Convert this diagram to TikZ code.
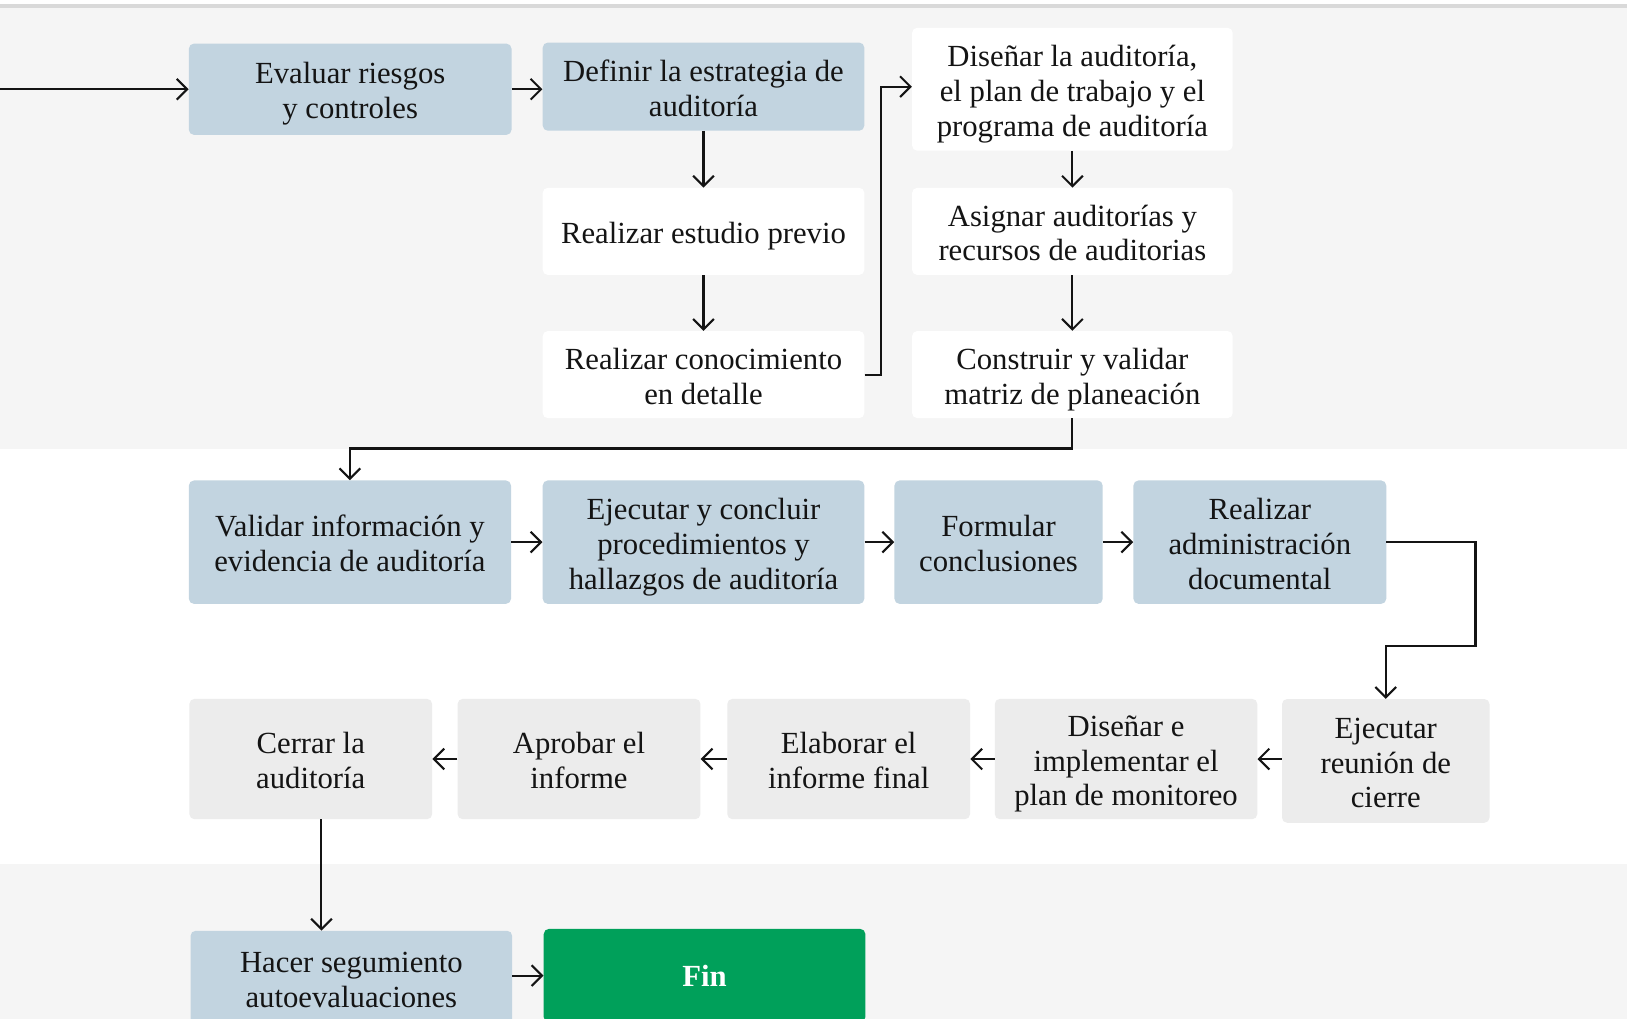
\documentclass[tikz,border=0pt]{standalone}
\usepackage{fontspec}
\setmainfont{Liberation Serif}
\usetikzlibrary{arrows.meta}

\definecolor{bandgray}{HTML}{F5F5F5}
\definecolor{rulegray}{HTML}{D9D9D9}
\definecolor{stepblue}{HTML}{C2D4E0}
\definecolor{stepgray}{HTML}{ECECEC}
\definecolor{fingreen}{HTML}{00A05A}
\definecolor{inkblack}{HTML}{141414}

% centred block of strutted lines, set slightly low in its box
\newcommand\steplines[1]{\raisebox{-5pt}[\height][\depth]{%
  \begin{tabular}{@{}c@{}}#1\end{tabular}}}

\tikzset{
  stepbase/.style={rounded corners=5pt, inner sep=0pt,
    text=inkblack, font=\fontsize{29.6}{33.5}\selectfont},
  bluebox/.style={stepbase, fill=stepblue},
  whitebox/.style={stepbase, fill=white},
  graybox/.style={stepbase, fill=stepgray},
  finbox/.style={stepbase, fill=fingreen, text=white,
    font=\fontsize{29.6}{33.5}\selectfont\bfseries},
  arr/.style={draw=inkblack, line width=2pt,
    -{Straight Barb[length=10pt,width=20pt]}},
}

\begin{document}
\begin{tikzpicture}[x=1pt, y=-1pt]
  % canvas and background bands
  \useasboundingbox (0,0) rectangle (1568,982);
  \clip (0,0) rectangle (1568,982);
  \fill[white] (0,0) rectangle (1568,982);
  \fill[rulegray] (0,4) rectangle (1568,7.7);
  \fill[bandgray] (0,7.7) rectangle (1568,433);
  \fill[bandgray] (0,832.7) rectangle (1568,982);

  % planning
  \node[bluebox, minimum width=311pt, minimum height=88pt] (b1) at (337.5,86)
    {\steplines{Evaluar riesgos\\y controles}};
  \node[bluebox, minimum width=310pt, minimum height=85pt] (b2) at (678,83.5)
    {\steplines{Definir la estrategia de\\auditoría}};
  \node[whitebox, minimum width=310pt, minimum height=84pt] (b3) at (678,223)
    {\steplines{Realizar estudio previo}};
  \node[whitebox, minimum width=310pt, minimum height=84pt] (b4) at (678,361)
    {\steplines{Realizar conocimiento\\en detalle}};
  \node[whitebox, minimum width=309pt, minimum height=118.5pt] (b5) at (1033.5,86)
    {\steplines{Diseñar la auditoría,\\el plan de trabajo y el\\programa de auditoría}};
  \node[whitebox, minimum width=309pt, minimum height=84pt] (b6) at (1033.5,223)
    {\steplines{Asignar auditorías y\\recursos de auditorias}};
  \node[whitebox, minimum width=309pt, minimum height=84pt] (b7) at (1033.5,361)
    {\steplines{Construir y validar\\matriz de planeación}};

  % execution
  \node[bluebox, minimum width=310.5pt, minimum height=119pt] (b8) at (337.25,522.5)
    {\steplines{Validar información y\\evidencia de auditoría}};
  \node[bluebox, minimum width=310pt, minimum height=119pt] (b9) at (678,522.5)
    {\steplines{Ejecutar y concluir\\procedimientos y\\hallazgos de auditoría}};
  \node[bluebox, minimum width=200.7pt, minimum height=119pt] (b10) at (962.35,522.5)
    {\steplines{Formular\\conclusiones}};
  \node[bluebox, minimum width=243.7pt, minimum height=119pt] (b11) at (1214.15,522.5)
    {\steplines{Realizar\\administración\\documental}};

  % reporting
  \node[graybox, minimum width=234pt, minimum height=116pt] (b12) at (299.5,731.5)
    {\steplines{Cerrar la\\auditoría}};
  \node[graybox, minimum width=234pt, minimum height=116pt] (b13) at (558,731.5)
    {\steplines{Aprobar el\\informe}};
  \node[graybox, minimum width=234pt, minimum height=116pt] (b14) at (817.9,731.5)
    {\steplines{Elaborar el\\informe final}};
  \node[graybox, minimum width=253pt, minimum height=116pt] (b15) at (1085.2,731.5)
    {\steplines{Diseñar e\\implementar el\\plan de monitoreo}};
  \node[graybox, minimum width=200pt, minimum height=119.3pt] (b16) at (1335.5,733.3)
    {\steplines{Ejecutar\\reunión de\\cierre}};

  % follow-up
  \node[bluebox, minimum width=310pt, minimum height=91pt] (b17) at (338.6,942.5)
    {\steplines{Hacer segumiento\\autoevaluaciones}};
  \node[finbox, minimum width=310pt, minimum height=90pt] (b18) at (679,940.2)
    {Fin};

  % connectors
  \coordinate (start) at (0,86);
  \draw[arr] (start) -- (b1.west);
  \draw[arr] (b1.east) -- (b1.east -| b2.west);
  \draw[arr] (b2.south) -- (b3.north);
  \draw[arr] (b3.south) -- (b4.north);
  \draw[arr] (b4.east) -- ++(15.8,0) |- ([yshift=2.5pt]b5.west);
  \draw[arr] (b5.south) -- (b6.north);
  \draw[arr] (b6.south) -- (b7.north);
  \draw[arr] (b7.south) -- ++(0,29) -| (b8.north);
  \draw[arr] (b8.east) -- (b9.west);
  \draw[arr] (b9.east) -- (b10.west);
  \draw[arr] (b10.east) -- (b11.west);
  \coordinate (turn) at (1422,623);
  \draw[arr] (b11.east) -| (turn) -| (b16.north);
  \draw[arr] (b16.west |- b15.east) -- (b15.east);
  \draw[arr] (b15.west) -- (b14.east);
  \draw[arr] (b14.west) -- (b13.east);
  \draw[arr] (b13.west) -- (b12.east);
  \draw[arr] ([xshift=10.3pt]b12.south) -- ([xshift=10.3pt]b12.south |- b17.north);
  \draw[arr] (b17.east |- b18.west) -- (b18.west);
\end{tikzpicture}
\end{document}
